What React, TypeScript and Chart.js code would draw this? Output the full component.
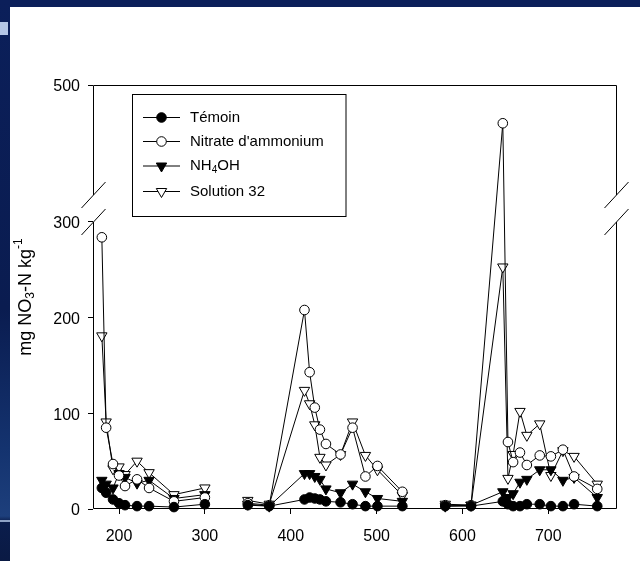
import { useEffect, useRef } from "react";
import { Chart, registerables } from "chart.js";

Chart.register(...registerables);

const FONT = "'Liberation Sans', Arial, Helvetica, sans-serif";

// Sampling days (x axis)
const days = [
  180, 185, 193, 200, 207, 221, 235, 264, 300,
  350, 375, 416, 422, 428, 434, 441, 458, 472, 487, 501, 530,
  580, 610, 647, 653, 659, 667, 675, 690, 703, 717, 730, 757,
];
// line is interrupted after these days
const breakAfter = [300, 530];

// mg NO3-N / kg
const temoin = [
  22, 17, 10, 6, 4, 3, 3, 2, 5,
  4, 3, 10, 12, 11, 10, 8, 7, 5, 3, 3, 3,
  3, 3, 8, 5, 3, 3, 5, 5, 3, 3, 5, 3,
];
const nitrateAmmonium = [
  284, 85, 47, 35, 24, 31, 22, 8, 12,
  6, 4, 208, 143, 106, 83, 68, 57, 85, 34, 45, 18,
  4, 4, 460, 70, 49, 59, 46, 56, 55, 62, 34, 21,
];
const nh4oh = [
  30, 26, 22, 37, 33, 27, 30, 11, 15,
  5, 3, 37, 37, 34, 31, 21, 17, 26, 18, 11, 8,
  3, 4, 18, 12, 16, 28, 31, 41, 41, 30, 33, 12,
];
const solution32 = [
  181, 91, 42, 44, 36, 50, 38, 15, 22,
  9, 5, 124, 110, 88, 54, 46, 57, 91, 56, 41, 14,
  5, 4, 253, 32, 57, 102, 77, 89, 35, 61, 55, 26,
];

const seriesNames = ["Témoin", "Nitrate d'ammonium", "NH4OH", "Solution 32"];
const xTicks = [200, 300, 400, 500, 600, 700];
const yTicks = [0, 100, 200, 300, 500];

// broken y axis: lower part 0-300, upper part 385-500
const LOWER_TOP = 300;
const UPPER_BOTTOM = 385;
const UPPER_TOP = 500;
const GAP = 28.2;

function toAxis(v: number): number {
  if (v <= LOWER_TOP) return v;
  if (v >= UPPER_BOTTOM) return LOWER_TOP + GAP + (v - UPPER_BOTTOM);
  return LOWER_TOP + ((v - LOWER_TOP) / (UPPER_BOTTOM - LOWER_TOP)) * GAP;
}

function points(vals: number[]) {
  const out: { x: number; y: number | null }[] = [];
  days.forEach((d, i) => {
    out.push({ x: d, y: toAxis(vals[i]) });
    if (breakAfter.includes(d)) out.push({ x: d + 1, y: null });
  });
  return out;
}

function drawMarker(ctx: CanvasRenderingContext2D, kind: number, x: number, y: number) {
  ctx.save();
  ctx.lineWidth = 1;
  ctx.strokeStyle = "#000";
  ctx.fillStyle = kind === 0 || kind === 2 ? "#000" : "#fff";
  ctx.beginPath();
  if (kind === 0 || kind === 1) {
    ctx.arc(x, y, 4.8, 0, Math.PI * 2);
  } else {
    const r = 6;
    ctx.moveTo(x, y + r);
    ctx.lineTo(x - r * 0.866, y - r * 0.5);
    ctx.lineTo(x + r * 0.866, y - r * 0.5);
    ctx.closePath();
  }
  ctx.fill();
  ctx.stroke();
  ctx.restore();
}

const framePlugin = {
  id: "frame",
  beforeDatasetsDraw(chart: any) {
    const { ctx, chartArea } = chart;
    const y = chart.scales.y;
    const l = Math.round(chartArea.left) + 0.5;
    const r = Math.round(chartArea.right) - 0.5;
    const t = Math.round(chartArea.top) + 0.5;
    const b = Math.round(chartArea.bottom) - 0.5;
    const yLow = y.getPixelForValue(LOWER_TOP);
    const yUp = y.getPixelForValue(LOWER_TOP + GAP);
    ctx.save();
    ctx.strokeStyle = "#000";
    ctx.lineWidth = 1;
    ctx.beginPath();
    ctx.moveTo(l, b);
    ctx.lineTo(r, b);
    ctx.moveTo(l, t);
    ctx.lineTo(r, t);
    for (const x of [l, r]) {
      ctx.moveTo(x, t);
      ctx.lineTo(x, yUp);
      ctx.moveTo(x, yLow);
      ctx.lineTo(x, b);
      ctx.moveTo(x - 12, yUp + 13);
      ctx.lineTo(x + 12, yUp - 13);
      ctx.moveTo(x - 12, yLow + 13);
      ctx.lineTo(x + 12, yLow - 13);
    }
    ctx.stroke();
    ctx.restore();
  },
  afterDatasetsDraw(chart: any) {
    const { ctx } = chart;
    // legend
    const bx = 132.5, by = 94.5, bw = 213.5, bh = 122;
    ctx.save();
    ctx.fillStyle = "#fff";
    ctx.fillRect(bx, by, bw, bh);
    ctx.strokeStyle = "#000";
    ctx.lineWidth = 1;
    ctx.strokeRect(bx, by, bw, bh);
    const rows = [117.5, 141.5, 166, 191.5];
    rows.forEach((ry, i) => {
      ctx.beginPath();
      ctx.moveTo(143, ry);
      ctx.lineTo(180, ry);
      ctx.strokeStyle = "#000";
      ctx.lineWidth = 1;
      ctx.stroke();
      drawMarker(ctx, i, 161.5, ry);
      ctx.fillStyle = "#000";
      ctx.textBaseline = "middle";
      ctx.textAlign = "left";
      ctx.font = `15px ${FONT}`;
      const name = seriesNames[i];
      if (name === "NH4OH") {
        let x = 190;
        ctx.fillText("NH", x, ry);
        x += ctx.measureText("NH").width;
        ctx.font = `10px ${FONT}`;
        ctx.fillText("4", x, ry + 4);
        x += ctx.measureText("4").width;
        ctx.font = `15px ${FONT}`;
        ctx.fillText("OH", x, ry);
      } else {
        ctx.fillText(name, 190, ry);
      }
    });
    ctx.restore();
  },
  afterDraw(chart: any) {
    const { ctx } = chart;
    // y axis title with sub/superscript
    const parts = [
      { t: "mg NO", s: 18, dy: 0 },
      { t: "3", s: 12, dy: 5 },
      { t: "-N kg", s: 18, dy: 0 },
      { t: "-1", s: 12, dy: -7 },
    ];
    ctx.save();
    ctx.translate(26, 297);
    ctx.rotate(-Math.PI / 2);
    ctx.textBaseline = "middle";
    ctx.textAlign = "left";
    ctx.fillStyle = "#000";
    let total = 0;
    for (const p of parts) {
      ctx.font = `${p.s}px ${FONT}`;
      total += ctx.measureText(p.t).width;
    }
    let x = -total / 2;
    for (const p of parts) {
      ctx.font = `${p.s}px ${FONT}`;
      ctx.fillText(p.t, x, p.dy);
      x += ctx.measureText(p.t).width;
    }
    ctx.restore();
  },
};

export default function App() {
  const ref = useRef<HTMLCanvasElement>(null);

  useEffect(() => {
    if (!ref.current) return;
    const mk = (label: string, vals: number[], style: string, filled: boolean, order: number) => ({
      label,
      data: points(vals),
      borderColor: "#000",
      borderWidth: 1,
      pointStyle: style,
      pointRotation: style === "triangle" ? 180 : 0,
      pointRadius: style === "triangle" ? 6 : 4.8,
      pointBorderWidth: 1,
      pointBorderColor: "#000",
      pointBackgroundColor: filled ? "#000" : "#fff",
      tension: 0,
      fill: false,
      spanGaps: false,
      clip: false as any,
      order,
    });
    const chart = new Chart(ref.current, {
      type: "line",
      data: {
        datasets: [
          mk(seriesNames[0], temoin, "circle", true, 0),
          mk(seriesNames[1], nitrateAmmonium, "circle", false, 1),
          mk(seriesNames[2], nh4oh, "triangle", true, 2),
          mk(seriesNames[3], solution32, "triangle", false, 3),
        ],
      },
      options: {
        animation: false,
        responsive: false,
        events: [],
        layout: { padding: { left: 0, top: 85, right: 23, bottom: 0 } },
        plugins: { legend: { display: false }, tooltip: { enabled: false } },
        scales: {
          x: {
            type: "linear",
            min: 169.7,
            max: 780,
            afterFit: (s: any) => {
              s.height = 52;
            },
            afterBuildTicks: (s: any) => {
              s.ticks = xTicks.map((v) => ({ value: v }));
            },
            grid: {
              display: true,
              drawOnChartArea: false,
              drawTicks: true,
              tickLength: 5,
              color: "#000",
              lineWidth: 1,
            },
            border: { display: false },
            ticks: {
              color: "#000",
              font: { family: FONT, size: 16 },
              padding: 13,
              maxRotation: 0,
              autoSkip: false,
            },
          },
          y: {
            type: "linear",
            min: 0,
            max: toAxis(UPPER_TOP),
            afterFit: (s: any) => {
              s.width = 93;
            },
            afterBuildTicks: (s: any) => {
              s.ticks = yTicks.map((v) => ({ value: toAxis(v) }));
            },
            grid: {
              display: true,
              drawOnChartArea: false,
              drawTicks: true,
              tickLength: 5,
              color: "#000",
              lineWidth: 1,
            },
            border: { display: false },
            ticks: {
              color: "#000",
              font: { family: FONT, size: 16 },
              padding: 8,
              labelOffset: 2,
              autoSkip: false,
              callback: (_v: any, i: number) => String(yTicks[i]),
            },
          },
        },
      },
      plugins: [framePlugin],
    });
    return () => chart.destroy();
  }, []);

  return (
    <div
      style={{
        position: "absolute",
        left: 0,
        top: 0,
        width: 640,
        height: 561,
        background: "#fff",
        overflow: "hidden",
      }}
    >
      <canvas
        ref={ref}
        width={640}
        height={561}
        style={{ position: "absolute", left: 0, top: 0, width: 640, height: 561 }}
      />
      <div
        style={{
          position: "absolute",
          left: 0,
          top: 0,
          width: 640,
          height: 7,
          background: "#0b1f5a",
        }}
      />
      <div
        style={{
          position: "absolute",
          left: 0,
          top: 0,
          width: 10,
          height: 561,
          background:
            "linear-gradient(to bottom, #0b1f5a 0%, #0a1c50 55%, #14336f 80%, #1d3f7c 92%, #0b1d4c 93%, #0a1a44 100%)",
        }}
      />
      <div
        style={{
          position: "absolute",
          left: 0,
          top: 22,
          width: 8,
          height: 13,
          background: "#b4c6e6",
        }}
      />
      <div
        style={{
          position: "absolute",
          left: 0,
          top: 520,
          width: 10,
          height: 2,
          background: "#8fa3c6",
        }}
      />
    </div>
  );
}
